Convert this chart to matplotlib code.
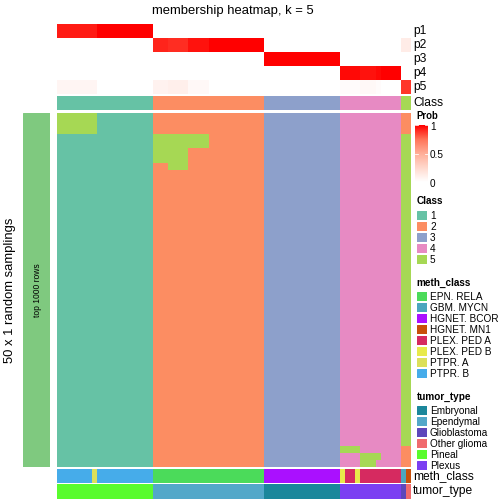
import numpy as np
import matplotlib
matplotlib.use('Agg')
import matplotlib.pyplot as plt
from matplotlib.colors import ListedColormap, LinearSegmentedColormap

plt.rcParams['font.family'] = ['Liberation Sans', 'DejaVu Sans']

# --- data ------------------------------------------------------------------
n_rows = 50
# sample groups: (width in samples, predicted class, p1..p5)
group_sizes = [8, 11, 3, 4, 4, 11, 15, 4, 3, 1, 4, 2]
group_class = [1, 1, 2, 2, 2, 2, 3, 4, 4, 4, 4, 5]
p1 = [0.94, 1.00, 0.00, 0.00, 0.00, 0.00, 0.00, 0.00, 0.00, 0.00, 0.00, 0.00]
p2 = [0.00, 0.00, 0.92, 0.90, 0.96, 1.00, 0.00, 0.00, 0.00, 0.00, 0.00, 0.12]
p3 = [0.00, 0.00, 0.00, 0.00, 0.00, 0.00, 1.00, 0.00, 0.00, 0.00, 0.00, 0.00]
p4 = [0.00, 0.00, 0.00, 0.00, 0.00, 0.00, 0.00, 0.98, 0.96, 0.98, 1.00, 0.00]
p5 = [0.06, 0.00, 0.08, 0.10, 0.04, 0.00, 0.00, 0.02, 0.04, 0.02, 0.00, 0.88]

# cells of the sampling matrix that differ from the column class:
# (first row, last row, first col, last col, class)
exceptions = [
    (0, 2, 0, 7, 5),
    (3, 4, 19, 29, 5),
    (5, 6, 19, 25, 5),
    (7, 7, 22, 25, 5),
    (47, 47, 56, 59, 5),
    (48, 48, 60, 63, 5),
    (49, 49, 60, 62, 5),
    (0, 2, 68, 69, 2),
    (47, 49, 68, 69, 2),
]

meth_levels = ['EPN. RELA', 'GBM. MYCN', 'HGNET. BCOR', 'HGNET. MN1',
               'PLEX. PED A', 'PLEX. PED B', 'PTPR. A', 'PTPR. B']
meth_runs = [('PTPR. B', 7), ('PTPR. A', 1), ('PTPR. B', 11), ('EPN. RELA', 22),
             ('HGNET. BCOR', 15), ('PLEX. PED B', 1), ('PLEX. PED A', 2),
             ('PLEX. PED B', 1), ('PLEX. PED A', 8), ('GBM. MYCN', 1),
             ('HGNET. MN1', 1)]
tumor_levels = ['Embryonal', 'Ependymal', 'Glioblastoma', 'Other glioma',
                'Pineal', 'Plexus']
tumor_runs = [('Pineal', 19), ('Ependymal', 22), ('Embryonal', 15),
              ('Plexus', 12), ('Glioblastoma', 1), ('Other glioma', 1)]

# --- colours ------------------------------------------------------------------
class_colors = ['#66C2A5', '#FC8D62', '#8DA0CB', '#E78AC3', '#A6D854']
meth_colors = ['#4BDB5A', '#4BA6BE', '#AA10FF', '#C8500A',
               '#D62A60', '#E8EA4A', '#DCE05A', '#46ACEA']
tumor_colors = ['#1B879B', '#53A8C9', '#5E47BB', '#F06A6E', '#59FC2E', '#7B3FF2']
prob_cmap = LinearSegmentedColormap.from_list(
    'prob', [(0, '#FFFFFF'), (0.25, '#FFD8CC'), (0.5, '#FFAE98'),
             (0.75, '#FF7458'), (1, '#FF0000')])

W = H = 504


def ax_px(x0, y0, x1, y1):
    a = fig.add_axes([x0 / W, 1 - y1 / H, (x1 - x0) / W, (y1 - y0) / H])
    a.set_axis_off()
    return a


def expand(values):
    return np.repeat(values, group_sizes)


fig = plt.figure(figsize=(7, 7), dpi=72)

X0, X1 = 56.7, 410
LAB = 12     # annotation names on the right
LEG = 10     # legend text

# probability rows
probs = np.vstack([expand(p) for p in (p1, p2, p3, p4, p5)])
ax = ax_px(X0, 24, X1, 94)
ax.imshow(probs, cmap=prob_cmap, vmin=0, vmax=1, aspect='auto',
          interpolation='nearest')
for i, lab in enumerate(['p1', 'p2', 'p3', 'p4', 'p5']):
    fig.text(413 / W, 1 - (31 + 14 * i) / H, lab, fontsize=LAB, va='center')

# class bar
col_class = expand(group_class)
class_cmap = ListedColormap(class_colors)
ax = ax_px(X0, 96, X1, 110)
ax.imshow(col_class[None, :] - 1, cmap=class_cmap, vmin=-0.5, vmax=4.5,
          aspect='auto', interpolation='nearest')
fig.text(413 / W, 1 - 103 / H, 'Class', fontsize=LAB, va='center')

# sampling matrix
mat = np.tile(col_class, (n_rows, 1))
for r0, r1, c0, c1, k in exceptions:
    mat[r0:r1 + 1, c0:c1 + 1] = k
ax = ax_px(X0, 112.5, X1, 466.5)
ax.imshow(mat - 1, cmap=class_cmap, vmin=-0.5, vmax=4.5, aspect='auto',
          interpolation='nearest')

# row-group bar on the left
ax = ax_px(23, 112.5, 50, 466.5)
ax.add_patch(plt.Rectangle((0, 0), 1, 1, color='#7FC97F'))
ax.set_xlim(0, 1)
ax.set_ylim(0, 1)
fig.text(37 / W, 1 - 290 / H, 'top 1000 rows', fontsize=8.5, rotation=90,
         ha='center', va='center')
fig.text(10 / W, 1 - 290 / H, '50 x 1 random samplings', fontsize=13,
         rotation=90, ha='center', va='center')

# bottom annotations
meth = [meth_levels.index(n) for n, c in meth_runs for _ in range(c)]
ax = ax_px(X0, 469, X1, 482.7)
ax.imshow(np.array(meth)[None, :], cmap=ListedColormap(meth_colors),
          vmin=-0.5, vmax=len(meth_levels) - 0.5, aspect='auto',
          interpolation='nearest')
fig.text(413 / W, 1 - 476 / H, 'meth_class', fontsize=LAB, va='center')

tumor = [tumor_levels.index(n) for n, c in tumor_runs for _ in range(c)]
ax = ax_px(X0, 483.7, X1, 498.7)
ax.imshow(np.array(tumor)[None, :], cmap=ListedColormap(tumor_colors),
          vmin=-0.5, vmax=len(tumor_levels) - 0.5, aspect='auto',
          interpolation='nearest')
fig.text(413 / W, 1 - 491 / H, 'tumor_type', fontsize=LAB, va='center')

fig.text(233 / W, 1 - 11 / H, 'membership heatmap, k = 5', fontsize=13,
         ha='center', va='center')

# legends
LX = 416.5
fig.text(LX / W, 1 - 116 / H, 'Prob', fontsize=9.5, fontweight='bold',
         va='center')
ax = ax_px(415, 125, 428, 182)
ax.imshow(np.linspace(1, 0, 100)[:, None], cmap=prob_cmap, vmin=0, vmax=1,
          aspect='auto', extent=(0, 1, 0, 1))
ax.set_xlim(0, 1)
ax.set_ylim(0, 1)
for v, lab in [(1, '1'), (0.5, '0.5'), (0, '0')]:
    for xs in [(0, 0.2), (0.8, 1)]:
        ax.plot(xs, [v, v], color='white', lw=0.8)
    fig.text(430 / W, 1 - (184 - 57 * v) / H, lab, fontsize=LEG,
             va='center')

fig.text(LX / W, 1 - 201 / H, 'Class', fontsize=LEG, fontweight='bold',
         va='center')
legend_items = [
    (211, [str(i + 1) for i in range(5)], class_colors),
    (291.7, meth_levels, meth_colors),
    (405.7, tumor_levels, tumor_colors),
]
titles = [(283, 'meth_class'), (397, 'tumor_type')]
for y, t in titles:
    fig.text(LX / W, 1 - y / H, t, fontsize=LEG, fontweight='bold',
             va='center')
for y0, labels, colors in legend_items:
    for i, (lab, col) in enumerate(zip(labels, colors)):
        y = y0 + 11 * i
        ax = ax_px(416.7, y, 426.7, y + 9.3)
        ax.add_patch(plt.Rectangle((0, 0), 1, 1, color=col))
        ax.set_xlim(0, 1)
        ax.set_ylim(0, 1)
        fig.text(430 / W, 1 - (y + 5) / H, lab, fontsize=LEG, va='center')

fig.savefig('out.png', dpi=72)
